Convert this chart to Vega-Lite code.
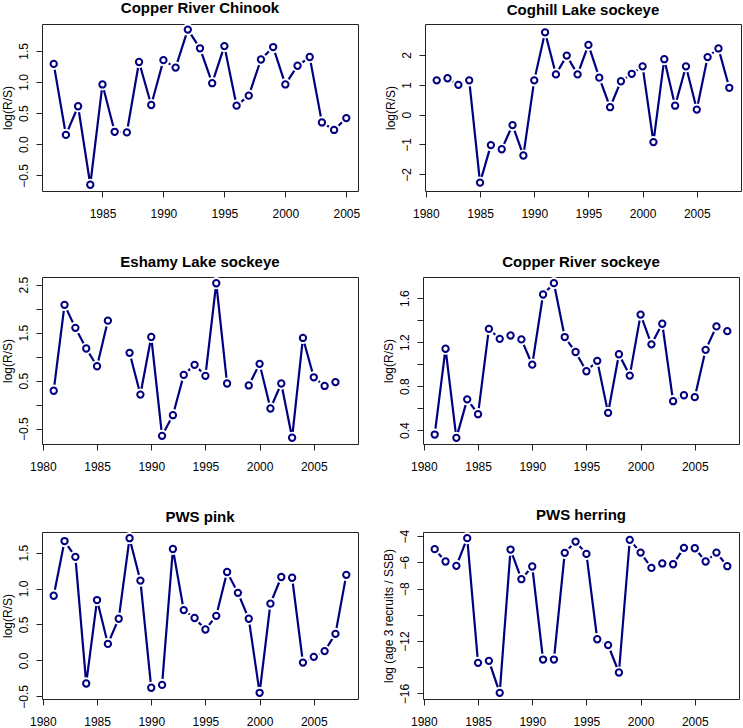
{
  "$schema": "https://vega.github.io/schema/vega-lite/v6.json",
  "padding": {"left": 0, "top": 0, "right": 0, "bottom": 0},
  "background": "white",
  "config": {
    "font": "Liberation Sans",
    "view": {"stroke": "#222", "strokeWidth": 1},
    "axis": {"grid": false, "domain": false, "tickColor": "#222", "tickSize": 6, "tickWidth": 1, "labelFontSize": 12, "labelColor": "black", "labelFont": "Liberation Sans", "titleFont": "Liberation Sans", "titleFontSize": 12, "titleFontWeight": "normal", "titleColor": "black", "labelOverlap": false, "labelFlush": false},
    "axisX": {"labelPadding": 11},
    "axisY": {"labelAngle": -90, "labelAlign": "center", "labelBaseline": "bottom", "labelPadding": 6, "titlePadding": 3},
    "title": {"fontSize": 15, "fontWeight": "bold", "font": "Liberation Sans", "color": "black", "offset": 6, "anchor": "middle"}
  },
  "spacing": 34,
  "datasets": {
    "chinook": [
      {"year": 1981, "value": 1.29}, {"year": 1982, "value": 0.15}, {"year": 1983, "value": 0.61}, {"year": 1984, "value": -0.65},
      {"year": 1985, "value": 0.96}, {"year": 1986, "value": 0.20}, {"year": 1987, "value": 0.19}, {"year": 1988, "value": 1.32},
      {"year": 1989, "value": 0.63}, {"year": 1990, "value": 1.35}, {"year": 1991, "value": 1.23}, {"year": 1992, "value": 1.84},
      {"year": 1993, "value": 1.54}, {"year": 1994, "value": 0.98}, {"year": 1995, "value": 1.575}, {"year": 1996, "value": 0.62},
      {"year": 1997, "value": 0.78}, {"year": 1998, "value": 1.36}, {"year": 1999, "value": 1.56}, {"year": 2000, "value": 0.96},
      {"year": 2001, "value": 1.26}, {"year": 2002, "value": 1.40}, {"year": 2003, "value": 0.35}, {"year": 2004, "value": 0.23},
      {"year": 2005, "value": 0.42}
    ],
    "coghill": [
      {"year": 1981, "value": 1.15}, {"year": 1982, "value": 1.22}, {"year": 1983, "value": 1.00}, {"year": 1984, "value": 1.15},
      {"year": 1985, "value": -2.28}, {"year": 1986, "value": -1.02}, {"year": 1987, "value": -1.16}, {"year": 1988, "value": -0.35},
      {"year": 1989, "value": -1.37}, {"year": 1990, "value": 1.15}, {"year": 1991, "value": 2.76}, {"year": 1992, "value": 1.35},
      {"year": 1993, "value": 1.98}, {"year": 1994, "value": 1.35}, {"year": 1995, "value": 2.34}, {"year": 1996, "value": 1.24},
      {"year": 1997, "value": 0.25}, {"year": 1998, "value": 1.12}, {"year": 1999, "value": 1.37}, {"year": 2000, "value": 1.62},
      {"year": 2001, "value": -0.92}, {"year": 2002, "value": 1.86}, {"year": 2003, "value": 0.30}, {"year": 2004, "value": 1.62},
      {"year": 2005, "value": 0.17}, {"year": 2006, "value": 1.93}, {"year": 2007, "value": 2.22}, {"year": 2008, "value": 0.90}
    ],
    "eshamy": [
      {"year": 1981, "value": 0.29}, {"year": 1982, "value": 2.08}, {"year": 1983, "value": 1.60}, {"year": 1984, "value": 1.17},
      {"year": 1985, "value": 0.80}, {"year": 1986, "value": 1.75}, {"year": 1987, "value": null}, {"year": 1988, "value": 1.08},
      {"year": 1989, "value": 0.21}, {"year": 1990, "value": 1.41}, {"year": 1991, "value": -0.65}, {"year": 1992, "value": -0.22},
      {"year": 1993, "value": 0.62}, {"year": 1994, "value": 0.83}, {"year": 1995, "value": 0.60}, {"year": 1996, "value": 2.53},
      {"year": 1997, "value": 0.44}, {"year": 1998, "value": null}, {"year": 1999, "value": 0.40}, {"year": 2000, "value": 0.85},
      {"year": 2001, "value": -0.08}, {"year": 2002, "value": 0.44}, {"year": 2003, "value": -0.69}, {"year": 2004, "value": 1.39},
      {"year": 2005, "value": 0.57}, {"year": 2006, "value": 0.39}, {"year": 2007, "value": 0.47}, {"year": 2008, "value": null}
    ],
    "crsockeye": [
      {"year": 1981, "value": 0.36}, {"year": 1982, "value": 1.14}, {"year": 1983, "value": 0.33}, {"year": 1984, "value": 0.68},
      {"year": 1985, "value": 0.545}, {"year": 1986, "value": 1.32}, {"year": 1987, "value": 1.23}, {"year": 1988, "value": 1.26},
      {"year": 1989, "value": 1.225}, {"year": 1990, "value": 0.995}, {"year": 1991, "value": 1.633}, {"year": 1992, "value": 1.736},
      {"year": 1993, "value": 1.246}, {"year": 1994, "value": 1.11}, {"year": 1995, "value": 0.935}, {"year": 1996, "value": 1.03},
      {"year": 1997, "value": 0.557}, {"year": 1998, "value": 1.09}, {"year": 1999, "value": 0.896}, {"year": 2000, "value": 1.45},
      {"year": 2001, "value": 1.18}, {"year": 2002, "value": 1.367}, {"year": 2003, "value": 0.663}, {"year": 2004, "value": 0.717},
      {"year": 2005, "value": 0.70}, {"year": 2006, "value": 1.13}, {"year": 2007, "value": 1.343}, {"year": 2008, "value": 1.30}
    ],
    "pink": [
      {"year": 1981, "value": 0.90}, {"year": 1982, "value": 1.66}, {"year": 1983, "value": 1.44}, {"year": 1984, "value": -0.32},
      {"year": 1985, "value": 0.84}, {"year": 1986, "value": 0.23}, {"year": 1987, "value": 0.58}, {"year": 1988, "value": 1.70},
      {"year": 1989, "value": 1.11}, {"year": 1990, "value": -0.38}, {"year": 1991, "value": -0.34}, {"year": 1992, "value": 1.55},
      {"year": 1993, "value": 0.70}, {"year": 1994, "value": 0.59}, {"year": 1995, "value": 0.43}, {"year": 1996, "value": 0.62},
      {"year": 1997, "value": 1.23}, {"year": 1998, "value": 0.94}, {"year": 1999, "value": 0.58}, {"year": 2000, "value": -0.45},
      {"year": 2001, "value": 0.79}, {"year": 2002, "value": 1.16}, {"year": 2003, "value": 1.15}, {"year": 2004, "value": -0.03},
      {"year": 2005, "value": 0.05}, {"year": 2006, "value": 0.13}, {"year": 2007, "value": 0.37}, {"year": 2008, "value": 1.19}
    ],
    "herring": [
      {"year": 1981, "value": -4.99}, {"year": 1982, "value": -5.93}, {"year": 1983, "value": -6.26}, {"year": 1984, "value": -4.15},
      {"year": 1985, "value": -13.66}, {"year": 1986, "value": -13.51}, {"year": 1987, "value": -15.95}, {"year": 1988, "value": -5.02},
      {"year": 1989, "value": -7.28}, {"year": 1990, "value": -6.31}, {"year": 1991, "value": -13.41}, {"year": 1992, "value": -13.41},
      {"year": 1993, "value": -5.27}, {"year": 1994, "value": -4.41}, {"year": 1995, "value": -5.35}, {"year": 1996, "value": -11.86},
      {"year": 1997, "value": -12.31}, {"year": 1998, "value": -14.40}, {"year": 1999, "value": -4.28}, {"year": 2000, "value": -5.25},
      {"year": 2001, "value": -6.42}, {"year": 2002, "value": -6.08}, {"year": 2003, "value": -6.14}, {"year": 2004, "value": -4.89},
      {"year": 2005, "value": -4.92}, {"year": 2006, "value": -5.93}, {"year": 2007, "value": -5.25}, {"year": 2008, "value": -6.29}
    ]
  },
  "vconcat": [
    {
      "spacing": 22,
      "hconcat": [
        {
          "title": "Copper River Chinook",
          "width": 316, "height": 167,
          "data": {"name": "chinook"},
          "encoding": {
            "x": {"field": "year", "type": "quantitative", "scale": {"domain": [1980.04, 2005.96], "nice": false, "zero": false}, "axis": {"values": [1985, 1990, 1995, 2000, 2005], "format": "d", "title": null}},
            "y": {"field": "value", "type": "quantitative", "scale": {"domain": [-0.75, 1.93], "nice": false, "zero": false}, "axis": {"values": [-0.5, 0, 0.5, 1, 1.5], "format": ".1f", "title": "log(R/S)"}}
          },
          "layer": [
            {"mark": {"type": "line", "color": "#000080", "strokeWidth": 2.2, "invalid": "break-paths-filter-domains"}},
            {"mark": {"type": "point", "filled": true, "color": "white", "size": 150, "opacity": 1}},
            {"mark": {"type": "point", "filled": false, "fill": "white", "fillOpacity": 1, "color": "#000080", "strokeWidth": 2, "size": 40, "opacity": 1}}
          ]
        },
        {
          "title": "Coghill Lake sockeye",
          "width": 316, "height": 167,
          "data": {"name": "coghill"},
          "encoding": {
            "x": {"field": "year", "type": "quantitative", "scale": {"domain": [1979.92, 2009.08], "nice": false, "zero": false}, "axis": {"values": [1980, 1985, 1990, 1995, 2000, 2005], "format": "d", "title": null}},
            "y": {"field": "value", "type": "quantitative", "scale": {"domain": [-2.56, 3.04], "nice": false, "zero": false}, "axis": {"values": [-2, -1, 0, 1, 2], "format": "d", "title": "log(R/S)"}}
          },
          "layer": [
            {"mark": {"type": "line", "color": "#000080", "strokeWidth": 2.2, "invalid": "break-paths-filter-domains"}},
            {"mark": {"type": "point", "filled": true, "color": "white", "size": 150, "opacity": 1}},
            {"mark": {"type": "point", "filled": false, "fill": "white", "fillOpacity": 1, "color": "#000080", "strokeWidth": 2, "size": 40, "opacity": 1}}
          ]
        }
      ]
    },
    {
      "spacing": 22,
      "hconcat": [
        {
          "title": "Eshamy Lake sockeye",
          "width": 316, "height": 167,
          "data": {"name": "eshamy"},
          "encoding": {
            "x": {"field": "year", "type": "quantitative", "scale": {"domain": [1979.92, 2009.08], "nice": false, "zero": false}, "axis": {"values": [1980, 1985, 1990, 1995, 2000, 2005], "format": "d", "title": null}},
            "y": {"field": "value", "type": "quantitative", "scale": {"domain": [-0.82, 2.66], "nice": false, "zero": false}, "axis": {"values": [-0.5, 0, 0.5, 1, 1.5, 2, 2.5], "labelExpr": "abs(datum.value % 1) == 0.5 ? format(datum.value, '.1f') : ''", "title": "log(R/S)"}}
          },
          "layer": [
            {"mark": {"type": "line", "color": "#000080", "strokeWidth": 2.2, "invalid": "break-paths-filter-domains"}},
            {"mark": {"type": "point", "filled": true, "color": "white", "size": 150, "opacity": 1}},
            {"mark": {"type": "point", "filled": false, "fill": "white", "fillOpacity": 1, "color": "#000080", "strokeWidth": 2, "size": 40, "opacity": 1}}
          ]
        },
        {
          "title": "Copper River sockeye",
          "width": 316, "height": 167,
          "data": {"name": "crsockeye"},
          "encoding": {
            "x": {"field": "year", "type": "quantitative", "scale": {"domain": [1979.92, 2009.08], "nice": false, "zero": false}, "axis": {"values": [1980, 1985, 1990, 1995, 2000, 2005], "format": "d", "title": null}},
            "y": {"field": "value", "type": "quantitative", "scale": {"domain": [0.274, 1.792], "nice": false, "zero": false}, "axis": {"values": [0.4, 0.6, 0.8, 1.0, 1.2, 1.4, 1.6], "labelExpr": "round(datum.value * 10) % 4 == 0 ? format(datum.value, '.1f') : ''", "title": "log(R/S)"}}
          },
          "layer": [
            {"mark": {"type": "line", "color": "#000080", "strokeWidth": 2.2, "invalid": "break-paths-filter-domains"}},
            {"mark": {"type": "point", "filled": true, "color": "white", "size": 150, "opacity": 1}},
            {"mark": {"type": "point", "filled": false, "fill": "white", "fillOpacity": 1, "color": "#000080", "strokeWidth": 2, "size": 40, "opacity": 1}}
          ]
        }
      ]
    },
    {
      "spacing": 22,
      "hconcat": [
        {
          "title": "PWS pink",
          "width": 316, "height": 167,
          "data": {"name": "pink"},
          "encoding": {
            "x": {"field": "year", "type": "quantitative", "scale": {"domain": [1979.92, 2009.08], "nice": false, "zero": false}, "axis": {"values": [1980, 1985, 1990, 1995, 2000, 2005], "format": "d", "title": null}},
            "y": {"field": "value", "type": "quantitative", "scale": {"domain": [-0.536, 1.786], "nice": false, "zero": false}, "axis": {"values": [-0.5, 0, 0.5, 1, 1.5], "format": ".1f", "title": "log(R/S)"}}
          },
          "layer": [
            {"mark": {"type": "line", "color": "#000080", "strokeWidth": 2.2, "invalid": "break-paths-filter-domains"}},
            {"mark": {"type": "point", "filled": true, "color": "white", "size": 150, "opacity": 1}},
            {"mark": {"type": "point", "filled": false, "fill": "white", "fillOpacity": 1, "color": "#000080", "strokeWidth": 2, "size": 40, "opacity": 1}}
          ]
        },
        {
          "title": "PWS herring",
          "width": 316, "height": 167,
          "data": {"name": "herring"},
          "encoding": {
            "x": {"field": "year", "type": "quantitative", "scale": {"domain": [1979.92, 2009.08], "nice": false, "zero": false}, "axis": {"values": [1980, 1985, 1990, 1995, 2000, 2005], "format": "d", "title": null}},
            "y": {"field": "value", "type": "quantitative", "scale": {"domain": [-16.42, -3.68], "nice": false, "zero": false}, "axis": {"values": [-16, -14, -12, -10, -8, -6, -4], "labelExpr": "datum.value == -14 || datum.value == -10 ? '' : format(datum.value, 'd')", "title": "log (age 3 recruits / SSB)"}}
          },
          "layer": [
            {"mark": {"type": "line", "color": "#000080", "strokeWidth": 2.2, "invalid": "break-paths-filter-domains"}},
            {"mark": {"type": "point", "filled": true, "color": "white", "size": 150, "opacity": 1}},
            {"mark": {"type": "point", "filled": false, "fill": "white", "fillOpacity": 1, "color": "#000080", "strokeWidth": 2, "size": 40, "opacity": 1}}
          ]
        }
      ]
    }
  ]
}
